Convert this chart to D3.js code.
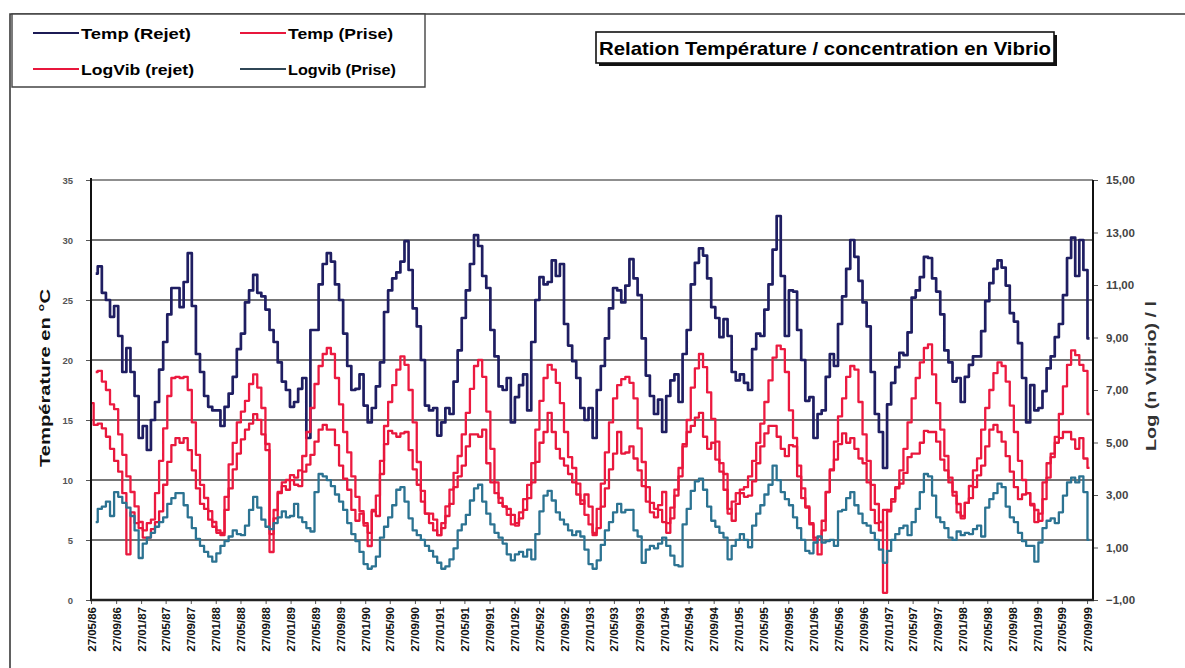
<!DOCTYPE html>
<html>
<head>
<meta charset="utf-8">
<script src="https://cdn.jsdelivr.net/npm/d3@7"></script>
<style>
  html, body { margin: 0; padding: 0; background: #fff; }
  svg { display: block; font-family: "Liberation Sans", Arial, sans-serif; }
</style>
</head>
<body>
<svg id="chart" width="1185" height="668"></svg>
<script>
// Sampling grid of the monitoring series: one reading every 20 days
const seriesStart = new Date(1986, 4, 30);
const stepDays = 20;

// Water temperature at the outlet (°C, left axis)
const tempRejet = [null,
  27.2, 27.8, 25.6, 25.0, 23.6, 24.5, 22.0, 19.0, 21.0, 19.0,
  17.0, 13.5, 14.5, 12.5, 15.0, 16.5, 19.2, 21.5, 23.8, 26.0,
  26.0, 24.4, 26.5, 28.9, 24.5, 20.5, 19.0, 17.0, 16.1, 15.8,
  15.8, 14.5, 16.1, 17.2, 18.6, 20.9, 22.2, 24.8, 25.8, 27.1,
  25.6, 25.3, 24.2, 22.5, 21.5, 19.8, 18.2, 17.5, 16.1, 16.5,
  17.6, 18.5, 13.5, 22.5, 22.5, 26.3, 28.0, 28.9, 28.2, 26.3,
  25.0, 22.2, 19.5, 17.5, 17.6, 18.8, 16.2, 14.8, 16.0, 17.8,
  19.8, 24.0, 25.8, 26.8, 27.3, 28.2, 29.9, 27.5, 24.3, 22.8,
  20.0, 16.2, 15.8, 16.0, 13.7, 14.8, 16.0, 15.5, 18.2, 20.8,
  23.5, 25.8, 28.0, 30.4, 29.5, 27.0, 26.0, 22.5, 20.3, 17.8,
  17.5, 18.5, 14.8, 16.9, 17.9, 18.8, 15.8, 21.5, 25.0, 26.9,
  26.3, 26.5, 28.3, 27.0, 28.0, 23.0, 21.2, 19.9, 18.5, 16.0,
  15.0, 16.0, 13.5, 17.5, 19.5, 21.8, 24.3, 26.0, 25.8, 24.8,
  26.2, 28.4, 26.8, 25.4, 21.8, 18.7, 17.0, 15.5, 16.7, 14.0,
  17.0, 18.3, 18.8, 16.5, 20.5, 22.5, 26.3, 28.1, 29.3, 28.7,
  26.8, 24.4, 23.5, 21.9, 23.4, 22.0, 19.0, 18.3, 18.8, 18.1,
  17.5, 20.9, 22.2, 22.0, 24.2, 26.3, 29.2, 32.0, 27.0, 22.0,
  25.8, 25.7, 22.5, 20.0, 16.6, 16.9, 13.5, 15.5, 15.8, 18.6,
  20.5, 19.5, 23.0, 25.3, 27.6, 30.0, 28.6, 26.6, 24.8, 22.8,
  19.0, 15.5, 14.0, 11.0, 16.3, 18.1, 19.4, 20.6, 20.4, 22.3,
  25.2, 25.8, 26.9, 28.6, 28.5, 26.8, 25.7, 23.8, 20.8, 19.8,
  18.2, 18.5, 16.5, 18.6, 19.6, 20.3, 20.3, 22.4, 24.9, 26.4,
  27.6, 28.3, 27.7, 26.2, 23.9, 23.2, 21.4, 18.5, 14.8, 17.9,
  15.8, 16.0, 17.4, 19.3, 20.3, 21.9, 23.0, 25.4, 28.5, 30.2,
  27.0, 30.0, 27.5, 21.8];

// Water temperature at the intake (°C, left axis)
const tempPrise = [null,
  19.0, 19.1, 18.2, 17.5, 16.3, 15.9, 13.8, 12.1, 10.3, 9.0,
  7.8, 6.5, 5.8, 6.4, 6.7, 8.9, 11.6, 14.3, 17.0, 18.5,
  18.6, 18.5, 18.6, 17.5, 14.8, 12.1, 9.6, 8.5, 7.4, 6.5,
  5.8, 5.6, 8.6, 11.3, 13.1, 14.8, 15.7, 16.6, 18.0, 18.8,
  17.7, 16.0, 13.0, 4.0, 7.5, 9.0, 9.8, 10.0, 10.4, 10.2,
  10.8, 12.0, 14.0, 16.0, 18.0, 19.5, 20.5, 21.0, 20.5, 18.5,
  16.3, 14.0, 12.3, 10.3, 8.6, 7.4, 6.2, 4.5, 7.5, 8.7,
  11.6, 14.5, 16.5, 17.9, 19.2, 20.3, 19.6, 17.5, 14.8, 11.5,
  9.1, 7.2, 7.2, 6.7, 5.4, 6.4, 7.8, 9.2, 10.6, 12.0,
  13.8, 15.6, 17.6, 19.5, 20.0, 18.6, 15.7, 12.6, 9.8, 8.5,
  7.8, 7.1, 6.3, 6.2, 7.3, 8.4, 9.6, 11.4, 14.2, 16.6,
  18.5, 19.6, 19.2, 18.1, 16.4, 14.0, 11.9, 11.0, 9.7, 8.3,
  7.1, 6.3, 5.6, 7.6, 9.7, 12.3, 14.8, 16.8, 17.9, 18.4,
  18.6, 18.1, 16.8, 14.3, 11.5, 9.4, 8.1, 7.6, 7.9, 9.0,
  6.4, 7.7, 9.2, 11.0, 12.8, 15.0, 17.7, 19.3, 20.5, 19.4,
  17.3, 15.1, 13.2, 11.4, 10.5, 7.2, 8.2, 8.9, 9.2, 9.4,
  10.3, 11.6, 13.1, 14.7, 16.5, 18.3, 20.2, 21.2, 20.9, 19.0,
  15.8, 13.5, 11.2, 9.3, 7.8, 6.4, 5.0, 3.8, 5.8, 9.0,
  10.8, 13.2, 15.3, 16.8, 18.6, 19.5, 19.2, 16.5, 13.8, 11.6,
  9.6, 8.0, 6.5, 0.6, 7.5, 8.4, 9.4, 10.8, 12.6, 14.8,
  16.8, 18.5, 19.8, 21.0, 21.3, 18.8, 16.4, 14.2, 12.0, 10.2,
  9.0, 8.0, 7.0, 8.1, 9.5, 10.8, 11.8, 14.2, 16.0, 17.5,
  18.9, 19.8, 19.5, 18.2, 16.2, 14.0, 11.6, 10.0, 8.9, 8.0,
  7.5, 6.6, 8.4, 10.2, 11.9, 13.6, 15.5, 17.8, 19.6, 20.8,
  20.4, 19.6, 19.1, 15.5];

// log10 of Vibrio count per litre at the outlet (right axis)
const logVibRejet = [
  6.50, 5.67, 5.72, 5.54, 5.22, 4.76, 4.30, 3.89, 3.07, 0.74,
  2.34, 1.93, 1.74, 1.38, 1.38, 1.70, 1.97, 2.38, 3.39, 4.26,
  4.90, 5.17, 4.99, 5.17, 4.71, 3.94, 3.25, 2.66, 2.47, 2.06,
  1.79, 1.56, 1.47, 2.43, 3.25, 3.98, 4.58, 5.12, 5.49, 5.72,
  6.08, 5.86, 5.31, 4.71, 1.51, 2.11, 3.07, 3.34, 3.20, 3.57,
  3.39, 3.34, 3.89, 4.16, 4.53, 5.03, 5.49, 5.67, 5.49, 5.49,
  4.90, 4.12, 3.62, 3.20, 2.43, 2.02, 2.29, 1.93, 1.56, 2.38,
  2.20, 3.80, 4.94, 5.44, 5.35, 5.22, 5.35, 5.40, 4.71, 3.98,
  3.39, 2.75, 2.29, 1.93, 1.65, 1.47, 1.74, 2.20, 2.66, 3.30,
  3.71, 4.12, 4.85, 5.31, 5.31, 5.22, 5.49, 4.21, 3.48, 3.07,
  2.70, 2.56, 2.47, 2.24, 1.93, 2.11, 2.43, 2.88, 3.48, 4.26,
  4.99, 5.40, 6.13, 5.40, 4.76, 4.39, 4.12, 3.80, 3.48, 3.02,
  2.66, 3.02, 2.56, 1.47, 1.74, 2.56, 3.25, 3.98, 4.58, 5.40,
  4.58, 4.62, 4.85, 4.39, 3.94, 3.34, 2.75, 2.34, 2.15, 2.43,
  1.97, 1.56, 2.11, 2.98, 3.71, 4.94, 5.40, 5.63, 5.95, 6.13,
  5.22, 4.76, 4.99, 4.35, 3.89, 3.20, 2.47, 2.02, 2.66, 3.07,
  2.93, 2.98, 3.52, 4.21, 4.85, 5.35, 5.63, 5.63, 5.22, 4.76,
  4.48, 4.90, 4.85, 3.71, 2.88, 2.52, 1.88, 1.38, 1.29, 2.02,
  3.11, 3.98, 4.35, 4.94, 5.35, 4.99, 5.17, 4.76, 4.39, 4.21,
  3.48, 2.43, 1.93, 1.65, 2.43, 2.38, 2.75, 3.25, 3.43, 3.84,
  4.44, 4.58, 4.58, 4.99, 5.44, 5.40, 5.40, 5.03, 4.35, 3.94,
  3.48, 2.98, 2.34, 2.11, 2.70, 2.88, 3.30, 3.75, 4.12, 4.85,
  5.49, 5.67, 5.40, 5.03, 4.48, 3.89, 3.30, 2.84, 3.02, 3.07,
  2.61, 1.97, 2.29, 3.48, 4.21, 4.58, 4.99, 5.17, 5.40, 5.40,
  5.12, 4.76, 5.17, 4.39, 4.03];

// log10 of Vibrio count per litre at the intake (right axis)
const logVibPrise = [null,
  1.97, 2.47, 2.56, 2.75, 2.20, 3.11, 2.93, 2.70, 2.52,
  2.20, 1.65, 0.60, 1.15, 1.38, 1.56, 1.79, 1.97, 2.15, 2.66,
  2.88, 3.07, 3.07, 2.61, 2.15, 1.74, 1.33, 1.06, 0.83, 0.65,
  0.46, 0.78, 1.06, 1.24, 1.42, 1.65, 1.51, 1.47, 1.83, 2.43,
  2.93, 2.52, 2.06, 1.79, 1.70, 1.93, 2.15, 2.38, 2.15, 2.20,
  2.66, 2.15, 1.97, 1.74, 1.61, 3.11, 3.80, 3.71, 3.57, 3.34,
  3.02, 2.75, 2.43, 1.93, 1.51, 1.24, 0.83, 0.37, 0.19, 0.28,
  0.65, 1.38, 1.79, 2.15, 2.61, 3.20, 3.30, 2.75, 2.11, 1.65,
  1.47, 1.29, 1.06, 0.87, 0.65, 0.42, 0.19, 0.28, 0.55, 0.97,
  1.65, 1.88, 2.24, 2.79, 3.25, 3.39, 2.75, 2.29, 1.88, 1.56,
  1.38, 1.15, 0.74, 0.51, 0.74, 0.83, 0.65, 0.92, 0.55, 1.51,
  2.38, 2.98, 3.16, 2.79, 2.34, 2.06, 1.88, 1.65, 1.47, 1.61,
  1.42, 0.92, 0.37, 0.19, 0.51, 1.10, 1.65, 1.97, 2.34, 2.66,
  2.34, 2.43, 2.43, 1.65, 1.42, 0.42, 0.92, 1.06, 0.97, 1.15,
  1.38, 1.06, 0.69, 0.33, 0.28, 1.88, 2.47, 3.16, 3.52, 3.62,
  3.20, 2.56, 2.02, 1.79, 1.56, 1.38, 0.55, 1.06, 1.29, 1.51,
  1.29, 1.01, 1.83, 2.29, 2.61, 3.02, 3.39, 4.12, 3.57, 3.11,
  2.84, 2.61, 2.15, 1.74, 1.29, 0.87, 0.78, 1.19, 1.42, 1.19,
  1.24, 1.29, 1.06, 2.38, 2.43, 2.88, 3.11, 2.61, 2.29, 1.93,
  1.83, 1.56, 1.29, 0.92, 0.42, 0.87, 1.29, 1.51, 1.74, 1.83,
  1.47, 1.97, 2.47, 3.11, 3.80, 3.71, 2.98, 2.15, 1.97, 1.74,
  1.38, 1.29, 1.61, 1.47, 1.56, 1.51, 1.70, 1.83, 1.42, 2.52,
  2.84, 3.07, 3.43, 3.30, 2.56, 2.15, 1.97, 1.56, 1.24, 1.06,
  1.06, 0.46, 1.19, 1.74, 2.02, 2.11, 1.93, 2.34, 2.98, 3.48,
  3.66, 3.48, 3.71, 3.11, 1.29];

// Date labels of the horizontal axis
const tickLabels = [
  "27/05/86", "27/09/86", "27/01/87", "27/05/87", "27/09/87", "27/01/88",
  "27/05/88", "27/09/88", "27/01/89", "27/05/89", "27/09/89", "27/01/90",
  "27/05/90", "27/09/90", "27/01/91", "27/05/91", "27/09/91", "27/01/92",
  "27/05/92", "27/09/92", "27/01/93", "27/05/93", "27/09/93", "27/01/94",
  "27/05/94", "27/09/94", "27/01/95", "27/05/95", "27/09/95", "27/01/96",
  "27/05/96", "27/09/96", "27/01/97", "27/05/97", "27/09/97", "27/01/98",
  "27/05/98", "27/09/98", "27/01/99", "27/05/99", "27/09/99"];
const tempTicks = [0, 5, 10, 15, 20, 25, 30, 35];
const logTicks = [-1, 1, 3, 5, 7, 9, 11, 13, 15];

const legendItems = [
  { label: "Temp (Rejet)", color: "#1c1b55", col: 0, row: 0, width: 110 },
  { label: "Temp (Prise)", color: "#e8173c", col: 1, row: 0, width: 105 },
  { label: "LogVib (rejet)", color: "#e8173c", col: 0, row: 1, width: 113 },
  { label: "Logvib (Prise)", color: "#2f4656", col: 1, row: 1, width: 108 }
];

const svg = d3.select("#chart");
const plot = { left: 91, right: 1093, top: 180, bottom: 600 };

const parseTick = d3.timeParse("%d/%m/%y");
const tickDates = tickLabels.map(parseTick);

const x = d3.scaleTime()
  .domain([new Date(1986, 4, 27), new Date(1999, 9, 26)])
  .range([plot.left, plot.right]);
const yT = d3.scaleLinear().domain([0, 35]).range([plot.bottom, plot.top]);
const yL = d3.scaleLinear().domain([-1, 15]).range([plot.bottom, plot.top]);

const dateAt = i => d3.timeDay.offset(seriesStart, i * stepDays);
const toPoints = arr => arr.map((v, i) => ({ date: dateAt(i), v }));

svg.append("rect").attr("width", 1185).attr("height", 668).attr("fill", "#fff");

// outer frame (top and left edges)
svg.append("path")
  .attr("d", "M10,668 L10,14 L1185,14")
  .attr("fill", "none").attr("stroke", "#3a3a3a").attr("stroke-width", 1.6);

// horizontal grid lines on the temperature ticks
svg.append("g").selectAll("line")
  .data(tempTicks.filter(t => t > 0))
  .join("line")
  .attr("x1", plot.left).attr("x2", plot.right)
  .attr("y1", d => yT(d)).attr("y2", d => yT(d))
  .attr("stroke", d => d === 35 ? "#6a6a6a" : "#474747")
  .attr("stroke-width", 1.4);

// series, drawn as stepped traces
const lineT = d3.line().defined(d => d.v != null).curve(d3.curveStep)
  .x(d => x(d.date)).y(d => yT(d.v));
const lineL = d3.line().defined(d => d.v != null).curve(d3.curveStep)
  .x(d => x(d.date)).y(d => yL(d.v));

const seriesG = svg.append("g").attr("stroke-linejoin", "round").attr("fill", "none");
seriesG.append("path").datum(toPoints(tempRejet)).attr("d", lineT)
  .attr("stroke", "#1f1e62").attr("stroke-width", 2.7);
seriesG.append("path").datum(toPoints(tempPrise)).attr("d", lineT)
  .attr("stroke", "#ec1a40").attr("stroke-width", 2.3);
seriesG.append("path").datum(toPoints(logVibRejet)).attr("d", lineL)
  .attr("stroke", "#e8173c").attr("stroke-width", 2.3);
seriesG.append("path").datum(toPoints(logVibPrise)).attr("d", lineL)
  .attr("stroke", "#2c7392").attr("stroke-width", 2.3);

// left axis
const axL = svg.append("g").attr("transform", `translate(${plot.left},0)`)
  .call(d3.axisLeft(yT).tickValues(tempTicks).tickSize(5).tickPadding(13));
axL.select(".domain").remove();
axL.selectAll(".tick line").attr("stroke", "#555");
axL.selectAll("text").attr("font-size", 9.5).attr("font-weight", "bold")
  .attr("fill", "#555").attr("font-family", "Liberation Sans, Arial, sans-serif");

// right axis
const fmtLog = d => d3.format(".2f")(d).replace(".", ",");
const axR = svg.append("g").attr("transform", `translate(${plot.right},0)`)
  .call(d3.axisRight(yL).tickValues(logTicks).tickSize(5).tickPadding(8).tickFormat(fmtLog));
axR.select(".domain").remove();
axR.selectAll(".tick line").attr("stroke", "#555");
axR.selectAll("text").attr("font-size", 11.5).attr("font-weight", "bold")
  .attr("fill", "#444").attr("font-family", "Liberation Sans, Arial, sans-serif");

// bottom axis with rotated date labels
const axB = svg.append("g").attr("transform", `translate(0,${plot.bottom})`)
  .call(d3.axisBottom(x).tickValues(tickDates).tickSize(4)
    .tickFormat((d, i) => tickLabels[i]));
axB.select(".domain").remove();
axB.selectAll(".tick line").attr("stroke", "#555");
axB.selectAll("text")
  .attr("transform", "rotate(-90)")
  .attr("x", -7).attr("y", 0).attr("dy", "0.35em")
  .attr("text-anchor", "end")
  .attr("font-size", 11.5).attr("font-weight", "bold").attr("fill", "#111")
  .attr("font-family", "Liberation Sans, Arial, sans-serif");

// plot frame
svg.append("line").attr("x1", plot.left).attr("x2", plot.left)
  .attr("y1", plot.top - 2).attr("y2", plot.bottom + 1)
  .attr("stroke", "#111").attr("stroke-width", 2);
svg.append("line").attr("x1", plot.right).attr("x2", plot.right)
  .attr("y1", plot.top).attr("y2", plot.bottom + 1)
  .attr("stroke", "#111").attr("stroke-width", 2);
svg.append("line").attr("x1", plot.left - 1).attr("x2", plot.right + 1)
  .attr("y1", plot.bottom).attr("y2", plot.bottom)
  .attr("stroke", "#222").attr("stroke-width", 2.4);

// axis titles
svg.append("text")
  .attr("transform", "translate(50,378) rotate(-90)")
  .attr("text-anchor", "middle")
  .attr("font-size", 15.5).attr("font-weight", "bold").attr("fill", "#111")
  .attr("textLength", 178).attr("lengthAdjust", "spacingAndGlyphs")
  .text("Température en °C");
svg.append("text")
  .attr("transform", "translate(1156,376) rotate(-90)")
  .attr("text-anchor", "middle")
  .attr("font-size", 14.5).attr("font-weight", "bold").attr("fill", "#333")
  .attr("textLength", 150).attr("lengthAdjust", "spacingAndGlyphs")
  .text("Log (n Vibrio) / l");

// chart title in a shadowed box
const tg = svg.append("g");
tg.append("rect").attr("x", 599).attr("y", 35).attr("width", 458).attr("height", 31).attr("fill", "#111");
tg.append("rect").attr("x", 596).attr("y", 32).attr("width", 458).attr("height", 31)
  .attr("fill", "#fff").attr("stroke", "#111").attr("stroke-width", 1.6);
tg.append("text").attr("x", 599).attr("y", 55)
  .attr("font-size", 19).attr("font-weight", "bold").attr("fill", "#000")
  .attr("textLength", 452).attr("lengthAdjust", "spacingAndGlyphs")
  .text("Relation Température / concentration en Vibrio");

// legend
const lg = svg.append("g");
lg.append("path").attr("d", "M12,14 L425,14 L425,87 L12,87 Z")
  .attr("fill", "#fff").attr("stroke", "#444").attr("stroke-width", 1.4);
const colX = [33, 240];
const rowY = [33, 69];
const item = lg.selectAll("g.item").data(legendItems).join("g").attr("class", "item")
  .attr("transform", d => `translate(${colX[d.col]},${rowY[d.row]})`);
item.append("line").attr("x1", 0).attr("x2", 46).attr("y1", 0).attr("y2", 0)
  .attr("stroke", d => d.color).attr("stroke-width", 2.2);
item.append("text").attr("x", 48).attr("y", 5.5)
  .attr("font-size", 15).attr("font-weight", "bold").attr("fill", "#000")
  .attr("textLength", d => d.width).attr("lengthAdjust", "spacingAndGlyphs")
  .text(d => d.label);
</script>
</body>
</html>
